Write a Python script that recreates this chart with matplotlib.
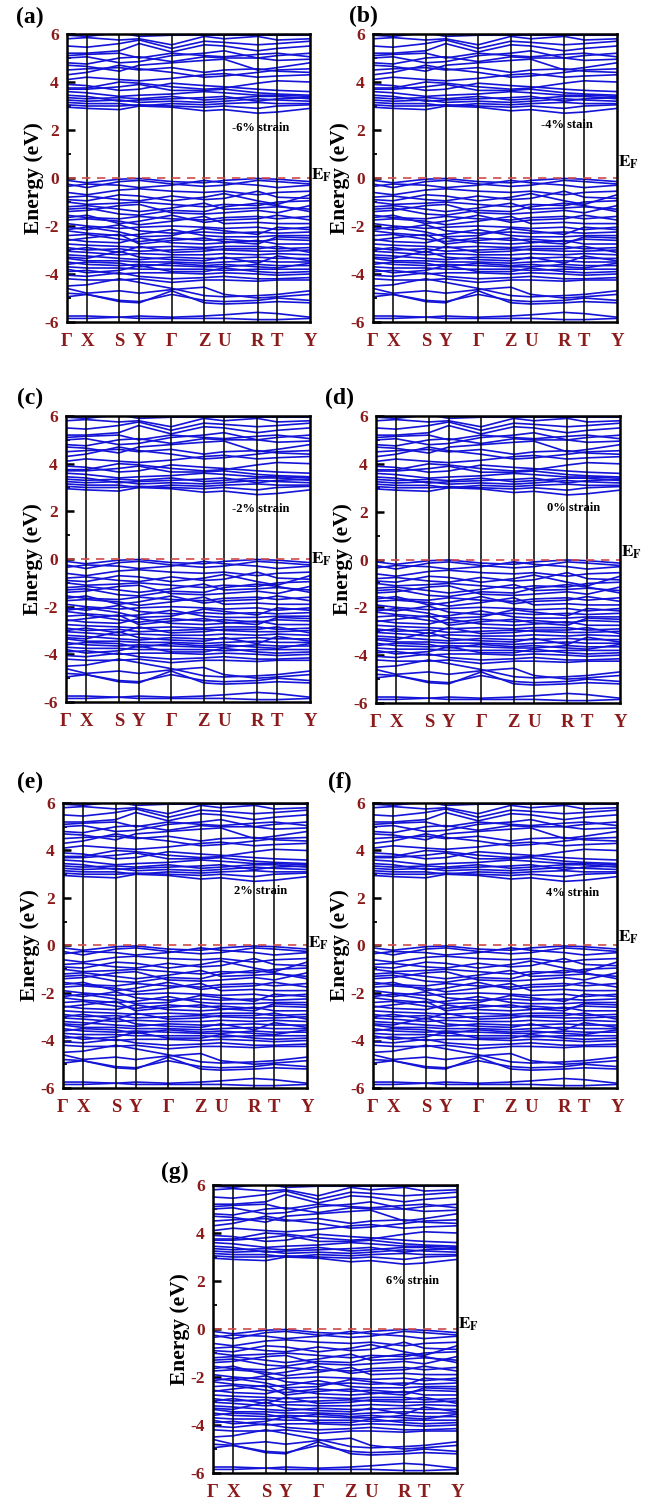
import numpy as np
import matplotlib.pyplot as plt
from matplotlib.ticker import MultipleLocator
from matplotlib.transforms import blended_transform_factory

plt.rcParams['font.family'] = 'Liberation Serif'
plt.rcParams['mathtext.fontset'] = 'stix'
plt.rcParams['axes.unicode_minus'] = False

# k-path (fraction of total path length) and labels
kpos = [0.0, 0.082, 0.216, 0.298, 0.431, 0.565, 0.647, 0.784, 0.866, 1.0]
klabels = ['Γ', 'X', 'S', 'Y', 'Γ', 'Z', 'U', 'R', 'T', 'Y']

# conduction bands, energy (eV) at each high-symmetry point
cond_bands = [
    [2.95, 2.90, 2.85, 3.00, 2.95, 2.80, 2.85, 2.70, 2.75, 2.90],
    [3.05, 3.00, 3.00, 3.05, 3.00, 2.95, 3.00, 2.90, 3.00, 3.05],
    [3.15, 3.10, 3.10, 3.00, 3.10, 3.05, 3.10, 3.15, 3.10, 3.10],
    [3.25, 3.20, 3.25, 3.15, 3.20, 3.15, 3.20, 3.30, 3.25, 3.20],
    [3.35, 3.30, 3.35, 3.30, 3.40, 3.25, 3.30, 3.40, 3.40, 3.30],
    [3.45, 3.40, 3.20, 3.25, 3.30, 3.35, 3.40, 3.20, 3.30, 3.35],
    [3.60, 3.55, 3.40, 3.45, 3.50, 3.60, 3.55, 3.45, 3.45, 3.40],
    [3.70, 3.70, 3.80, 3.90, 3.65, 3.65, 3.70, 3.55, 3.50, 3.45],
    [3.75, 3.75, 4.00, 3.95, 3.80, 3.70, 3.75, 3.95, 4.05, 4.00],
    [3.90, 3.85, 3.65, 3.70, 3.95, 3.85, 3.80, 3.70, 3.65, 3.60],
    [4.10, 4.20, 4.10, 4.05, 4.15, 4.30, 4.35, 4.20, 4.25, 4.30],
    [4.30, 4.40, 4.70, 4.55, 4.40, 4.20, 4.25, 4.40, 4.50, 4.55],
    [4.50, 4.55, 4.60, 4.50, 4.60, 4.40, 4.50, 4.55, 4.45, 4.40],
    [4.70, 4.65, 4.45, 4.70, 4.80, 4.90, 4.95, 4.50, 4.60, 4.80],
    [4.80, 4.75, 5.00, 5.05, 4.85, 5.05, 5.00, 5.00, 4.90, 4.95],
    [5.00, 5.05, 4.80, 4.85, 5.10, 5.20, 5.30, 5.00, 5.10, 5.20],
    [5.10, 5.15, 5.20, 5.00, 5.20, 5.10, 5.05, 5.15, 5.20, 5.05],
    [5.20, 5.20, 5.30, 5.60, 5.25, 5.55, 5.50, 5.30, 5.40, 5.50],
    [5.50, 5.45, 5.60, 5.75, 5.40, 5.70, 5.65, 5.55, 5.60, 5.70],
    [5.80, 5.85, 5.75, 5.80, 5.55, 5.90, 5.80, 5.90, 5.75, 5.80],
    [5.95, 5.90, 6.05, 5.90, 5.95, 5.95, 5.95, 5.95, 5.95, 5.95],
]

# valence bands
val_bands = [
    [-0.10, -0.20, -0.05, -0.02, -0.15, -0.20, -0.10, -0.02, -0.05, -0.15],
    [-0.25, -0.40, -0.15, -0.10, -0.25, -0.35, -0.30, -0.10, -0.15, -0.25],
    [-0.35, -0.25, -0.30, -0.40, -0.30, -0.10, -0.20, -0.30, -0.40, -0.30],
    [-0.60, -0.70, -0.50, -0.45, -0.55, -0.60, -0.55, -0.70, -0.60, -0.55],
    [-0.80, -0.75, -0.90, -0.95, -0.75, -0.90, -0.85, -0.55, -0.80, -0.85],
    [-0.90, -0.95, -0.70, -0.75, -0.95, -0.80, -0.65, -0.95, -1.10, -0.70],
    [-1.00, -1.10, -1.05, -1.00, -1.10, -1.20, -1.10, -1.15, -1.00, -0.95],
    [-1.20, -1.15, -1.30, -1.40, -1.25, -1.05, -1.30, -1.25, -1.20, -1.30],
    [-1.30, -1.25, -1.50, -1.55, -1.35, -1.40, -1.20, -1.05, -1.15, -1.40],
    [-1.40, -1.35, -1.15, -1.10, -1.45, -1.50, -1.45, -1.35, -1.45, -1.15],
    [-1.55, -1.65, -1.70, -1.60, -1.70, -1.75, -1.65, -1.60, -1.70, -1.60],
    [-1.65, -1.55, -1.90, -1.80, -1.55, -1.85, -1.75, -1.70, -1.55, -1.75],
    [-1.75, -1.70, -1.80, -1.95, -1.80, -1.60, -1.90, -1.85, -1.90, -1.90],
    [-1.90, -2.00, -2.10, -2.05, -2.00, -2.05, -2.10, -2.05, -2.15, -2.05],
    [-2.05, -2.15, -1.95, -2.20, -2.30, -2.25, -2.30, -2.25, -2.30, -2.25],
    [-2.15, -2.05, -2.25, -2.45, -2.40, -2.10, -2.20, -2.35, -2.05, -2.15],
    [-2.20, -2.30, -2.40, -2.35, -2.15, -2.40, -2.45, -2.45, -2.40, -2.40],
    [-2.40, -2.35, -2.55, -2.65, -2.50, -2.60, -2.55, -2.65, -2.55, -2.60],
    [-2.55, -2.65, -2.70, -2.50, -2.70, -2.75, -2.70, -2.60, -2.75, -2.75],
    [-2.60, -2.50, -2.35, -2.75, -2.60, -2.50, -2.65, -2.75, -2.45, -2.50],
    [-2.75, -2.80, -2.85, -2.90, -2.85, -2.90, -2.85, -2.85, -2.95, -2.90],
    [-2.90, -3.00, -2.95, -3.05, -3.00, -2.95, -3.00, -3.05, -3.05, -3.00],
    [-3.00, -2.90, -3.10, -2.85, -3.10, -3.05, -2.95, -2.95, -2.85, -3.10],
    [-3.05, -3.10, -3.20, -3.15, -3.20, -3.20, -3.15, -3.20, -3.15, -3.20],
    [-3.20, -3.25, -3.35, -3.40, -3.30, -3.35, -3.35, -3.30, -3.35, -3.35],
    [-3.30, -3.35, -3.05, -3.30, -3.40, -3.45, -3.30, -3.55, -3.25, -3.45],
    [-3.35, -3.45, -3.45, -3.50, -3.50, -3.55, -3.50, -3.45, -3.50, -3.50],
    [-3.50, -3.60, -3.65, -3.60, -3.65, -3.70, -3.70, -3.60, -3.65, -3.65],
    [-3.60, -3.50, -3.55, -3.70, -3.55, -3.65, -3.60, -3.70, -3.75, -3.55],
    [-3.70, -3.75, -3.75, -3.80, -3.80, -3.80, -3.85, -3.80, -3.80, -3.80],
    [-3.80, -3.95, -3.85, -3.65, -3.90, -3.90, -3.75, -3.90, -3.95, -3.90],
    [-3.90, -3.85, -4.00, -3.95, -3.95, -4.00, -3.95, -4.00, -4.05, -4.00],
    [-4.05, -4.10, -3.95, -4.10, -4.20, -4.15, -4.10, -4.20, -4.20, -4.15],
    [-4.20, -4.25, -4.25, -4.20, -4.35, -4.25, -4.25, -4.30, -4.25, -4.25],
    [-4.50, -4.45, -4.20, -4.35, -4.60, -4.90, -4.95, -4.90, -4.85, -4.70],
    [-4.60, -4.80, -4.70, -4.80, -4.65, -4.55, -4.85, -5.00, -4.95, -4.85],
    [-4.80, -4.85, -5.10, -5.15, -4.85, -5.10, -5.15, -5.10, -5.00, -5.10],
    [-4.95, -4.85, -5.15, -5.20, -4.70, -5.20, -5.25, -5.20, -5.15, -5.20],
    [-5.75, -5.75, -5.80, -5.75, -5.80, -5.75, -5.70, -5.60, -5.65, -5.80],
    [-5.85, -5.85, -5.80, -5.85, -5.85, -5.85, -5.85, -5.90, -5.90, -5.85],
]

panel_tags = ['(a)', '(b)', '(c)', '(d)', '(e)', '(f)', '(g)']
strain_labels = ['-6% strain', '-4% stain', '-2% strain', '0% strain',
                 '2% strain', '4% strain', '6% strain']

# layout (pixels): axes box x0, y0, x1, y1 ; tag position ; strain text ; E_F height
boxes = [(67, 34, 310, 322), (373, 34, 617, 322),
         (66, 416, 310, 702), (376, 416, 620, 703),
         (63, 803, 307, 1088), (373, 803, 617, 1088),
         (213, 1185, 457, 1473)]
tag_xy = [(30, 17), (363, 16), (30, 398), (340, 398), (30, 782), (340, 782), (175, 1172)]
strain_xy = [(0.68, 2.1), (0.69, 2.2), (0.68, 2.1), (0.70, 2.15),
             (0.70, 2.3), (0.71, 2.2), (0.71, 2.0)]
ef_y = [0.1, 0.65, 0.0, 0.3, 0.1, 0.35, 0.2]

W, H = 660, 1507
RED = '#8b1a1a'
BLUE = '#1414d8'

fig = plt.figure(figsize=(W / 100, H / 100), dpi=100)

for i in range(7):
    x0, y0, x1, y1 = boxes[i]
    ax = fig.add_axes([x0 / W, 1 - y1 / H, (x1 - x0) / W, (y1 - y0) / H])

    for band in cond_bands + val_bands:
        ax.plot(kpos, band, color=BLUE, lw=1.2)
    for k in kpos[1:-1]:
        ax.axvline(k, color='black', lw=1.1, zorder=3)
    ax.axhline(0, color='#d04a4a', lw=1.2, ls=(0, (5, 4)), zorder=4)

    ax.set_xlim(0, 1)
    ax.set_ylim(-6, 6)
    for sp in ax.spines.values():
        sp.set_linewidth(1.8)
        sp.set_zorder(5)

    ax.set_xticks(kpos)
    ax.set_xticklabels(klabels, fontsize=13.5, fontweight='bold', color=RED)
    ax.tick_params(axis='x', length=0, pad=8)

    ax.set_yticks(range(-6, 7, 2))
    ax.set_yticklabels([str(v) for v in range(-6, 7, 2)], fontsize=12.5,
                       fontweight='bold', color=RED)
    ax.yaxis.set_minor_locator(MultipleLocator(1))
    ax.tick_params(axis='y', which='major', direction='in', length=6, width=1.8, pad=6)
    ax.tick_params(axis='y', which='minor', direction='in', length=3, width=1.3)
    ax.set_ylabel('Energy (eV)', fontsize=15.5, fontweight='bold', labelpad=0)

    sx, sy = strain_xy[i]
    ax.text(sx, sy, strain_labels[i], transform=blended_transform_factory(ax.transAxes, ax.transData),
            fontsize=9, fontweight='bold', va='center', ha='left', zorder=6)

    ax.text(1.004, ef_y[i], r'$\mathbf{E}_\mathbf{F}$',
            transform=blended_transform_factory(ax.transAxes, ax.transData),
            fontsize=12.5, va='center', ha='left')

    tx, ty = tag_xy[i]
    fig.text(tx / W, 1 - ty / H, panel_tags[i], fontsize=17, fontweight='bold',
             ha='center', va='center')

fig.savefig('out.png', dpi=100)
